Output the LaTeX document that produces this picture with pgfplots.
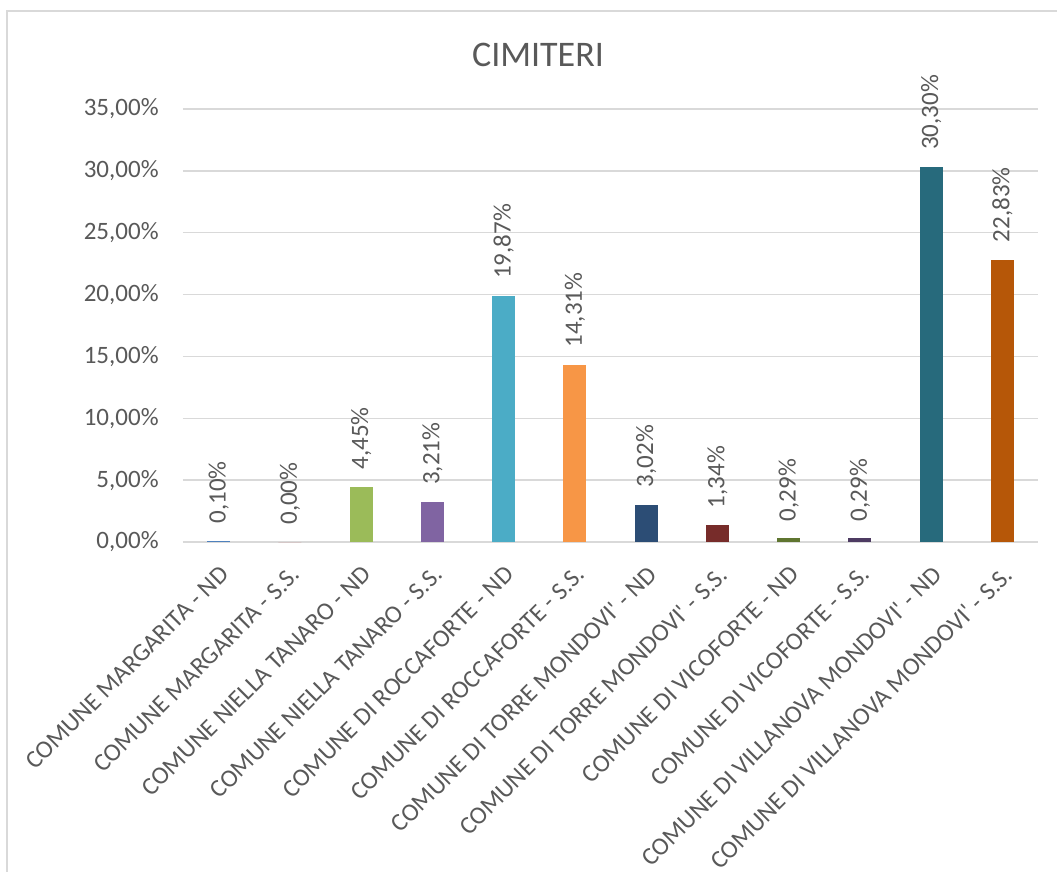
\documentclass[border=0pt]{standalone}
\usepackage{fontspec}
\setmainfont{Carlito}[Ligatures=TeXOff]
\usepackage{pgfplots}
\pgfplotsset{compat=1.18}
\definecolor{txt}{HTML}{595959}
\definecolor{grd}{HTML}{D9D9D9}
\definecolor{c1}{HTML}{4F81BD}
\definecolor{c2}{HTML}{C0504D}
\definecolor{c3}{HTML}{9BBB59}
\definecolor{c4}{HTML}{8064A2}
\definecolor{c5}{HTML}{4BACC6}
\definecolor{c6}{HTML}{F79646}
\definecolor{c7}{HTML}{2C4D75}
\definecolor{c8}{HTML}{772C2A}
\definecolor{c9}{HTML}{5F7530}
\definecolor{c10}{HTML}{4D3B62}
\definecolor{c11}{HTML}{276A7C}
\definecolor{c12}{HTML}{B65708}
\begin{document}
\begin{tikzpicture}
% 1 px of the reference = 0.5pt
\useasboundingbox (0,0) rectangle (528.5pt,-436pt);
\draw[grd,line width=0.75pt] (3.5pt,-440pt) |- (540pt,-5.5pt);
\node[font=\fontsize{18}{20}\selectfont,text=txt] at (269pt,-27.5pt) {CIMITERI};
\begin{axis}[
  at={(91.5pt,-271pt)},anchor=south west,
  scale only axis,width=427.5pt,height=216.5pt,
  ybar,bar width=11.5pt,bar shift=0pt,
  xmin=-0.5,xmax=11.5,ymin=0,ymax=35,
  ytick={0,5,...,35},
  xtick={0,...,11},
  xticklabels={COMUNE MARGARITA - ND,COMUNE MARGARITA - S.S.,COMUNE NIELLA TANARO - ND,COMUNE NIELLA TANARO - S.S.,COMUNE DI ROCCAFORTE - ND,COMUNE DI ROCCAFORTE - S.S.,COMUNE DI TORRE MONDOVI' - ND,COMUNE DI TORRE MONDOVI' - S.S.,COMUNE DI VICOFORTE - ND,COMUNE DI VICOFORTE - S.S.,COMUNE DI VILLANOVA MONDOVI' - ND,COMUNE DI VILLANOVA MONDOVI' - S.S.},
  ymajorgrids,grid style={grd,line width=0.75pt},
  axis line style={draw=none},
  major tick length=0pt,
  /pgf/number format/assume math mode=true,
  tick label style={font=\fontsize{12.5}{14}\selectfont,text=txt,inner sep=0pt},
  yticklabel={\pgfmathprintnumber[fixed,fixed zerofill,precision=2,use comma]{\tick}\%},
  yticklabel style={anchor=east},
  yticklabel shift=12pt,
  xticklabel style={rotate=45,anchor=north east},
  xticklabel shift=11pt,
  nodes near coords={\pgfmathprintnumber[fixed,fixed zerofill,precision=2,use comma]{\pgfplotspointmeta}\%},
  every node near coord/.append style={font=\fontsize{12.5}{14}\selectfont,text=txt,rotate=90,anchor=west,inner xsep=8.5pt,inner ysep=0pt},
]
\addplot[fill=c1,draw=none] coordinates {(0,0.10)};
\addplot[fill=c2,draw=none] coordinates {(1,0.00)};
\addplot[fill=c3,draw=none] coordinates {(2,4.45)};
\addplot[fill=c4,draw=none] coordinates {(3,3.21)};
\addplot[fill=c5,draw=none] coordinates {(4,19.87)};
\addplot[fill=c6,draw=none] coordinates {(5,14.31)};
\addplot[fill=c7,draw=none] coordinates {(6,3.02)};
\addplot[fill=c8,draw=none] coordinates {(7,1.34)};
\addplot[fill=c9,draw=none] coordinates {(8,0.29)};
\addplot[fill=c10,draw=none] coordinates {(9,0.29)};
\addplot[fill=c11,draw=none] coordinates {(10,30.30)};
\addplot[fill=c12,draw=none] coordinates {(11,22.83)};
\end{axis}
\end{tikzpicture}
\end{document}
